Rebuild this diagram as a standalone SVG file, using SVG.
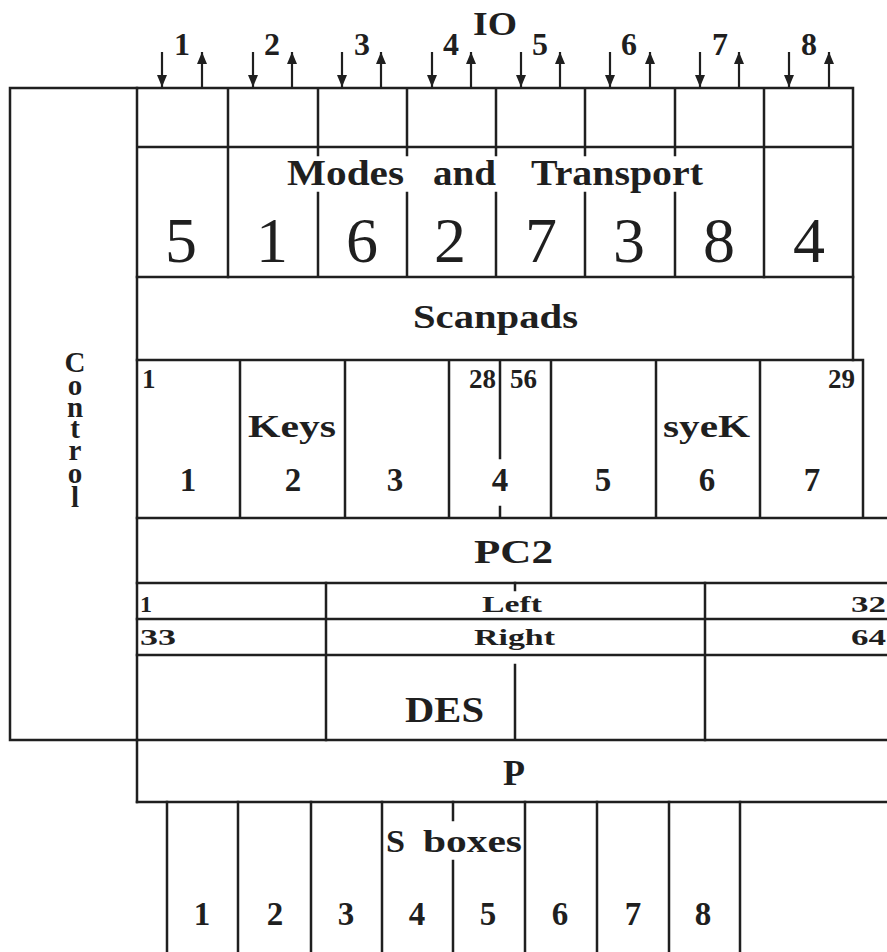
<svg xmlns="http://www.w3.org/2000/svg" width="887" height="952" viewBox="0 0 887 952">
<style>
  .ln{stroke:#1f1f1f;stroke-width:2.5;fill:none;stroke-linecap:square}
  .t{font-family:"Liberation Serif","DejaVu Serif",serif;font-weight:bold;fill:#1f1f1f}
  .big{font-family:"Liberation Serif","DejaVu Serif",serif;font-weight:normal;fill:#1f1f1f;font-size:64px;text-anchor:middle}
  .c{text-anchor:middle}
  .r{text-anchor:end}
  .ar{stroke:#1f1f1f;stroke-width:2.2;fill:none}
</style>
<defs>
  <marker id="ah" markerUnits="userSpaceOnUse" markerWidth="14" markerHeight="12" refX="12" refY="5" orient="auto">
    <path d="M0,0 L12,5 L0,10 Z" fill="#1f1f1f"/>
  </marker>
</defs>
<rect width="887" height="952" fill="#fff"/>

<g id="io">
  <text class="t" x="473" y="35" font-size="34" textLength="44" lengthAdjust="spacingAndGlyphs">IO</text>
  <g font-size="32">
    <text class="t c" x="182" y="55">1</text>
    <text class="t c" x="272" y="55">2</text>
    <text class="t c" x="362" y="55">3</text>
    <text class="t c" x="451" y="55">4</text>
    <text class="t c" x="540" y="55">5</text>
    <text class="t c" x="629" y="55">6</text>
    <text class="t c" x="720" y="55">7</text>
    <text class="t c" x="809" y="55">8</text>
  </g>
</g>
<g id="connectors">
  <path class="ar" marker-end="url(#ah)" d="M162,52 V87"/>
  <path class="ar" marker-end="url(#ah)" d="M202,88 V52"/>
  <path class="ar" marker-end="url(#ah)" d="M253,52 V87"/>
  <path class="ar" marker-end="url(#ah)" d="M292,88 V52"/>
  <path class="ar" marker-end="url(#ah)" d="M342,52 V87"/>
  <path class="ar" marker-end="url(#ah)" d="M381,88 V52"/>
  <path class="ar" marker-end="url(#ah)" d="M432,52 V87"/>
  <path class="ar" marker-end="url(#ah)" d="M471,88 V52"/>
  <path class="ar" marker-end="url(#ah)" d="M521,52 V87"/>
  <path class="ar" marker-end="url(#ah)" d="M560,88 V52"/>
  <path class="ar" marker-end="url(#ah)" d="M610,52 V87"/>
  <path class="ar" marker-end="url(#ah)" d="M650,88 V52"/>
  <path class="ar" marker-end="url(#ah)" d="M700,52 V87"/>
  <path class="ar" marker-end="url(#ah)" d="M739,88 V52"/>
  <path class="ar" marker-end="url(#ah)" d="M789,52 V87"/>
  <path class="ar" marker-end="url(#ah)" d="M829,88 V52"/>
</g>

<g id="control">
  <path class="ln" d="M137,88 H10 V740 H137"/>
  <text class="t c" font-size="29"><tspan x="75" y="372">C</tspan><tspan x="75" y="395">o</tspan><tspan x="75" y="417">n</tspan><tspan x="75" y="438">t</tspan><tspan x="75" y="460">r</tspan><tspan x="75" y="483">o</tspan><tspan x="75" y="507">l</tspan></text>
</g>

<g id="io-cells">
  <path class="ln" d="M137,88 H853 V360 M137,88 V802 M137,147 H853 M228,88 V277 M318,88 V155 M407,88 V155 M496,88 V155 M585,88 V155 M675,88 V155 M764,88 V277"/>
</g>

<g id="modes">
  <path class="ln" d="M318,193 V277 M407,193 V277 M496,193 V277 M585,193 V277 M675,193 V277 M137,277 H853"/>
  <text class="t" y="185" font-size="35"><tspan x="287" textLength="117" lengthAdjust="spacingAndGlyphs">Modes</tspan><tspan x="433" textLength="63" lengthAdjust="spacingAndGlyphs">and</tspan><tspan x="531" textLength="172" lengthAdjust="spacingAndGlyphs">Transport</tspan></text>
  <text class="big" x="181" y="262">5</text>
  <text class="big" x="272" y="262">1</text>
  <text class="big" x="362" y="262">6</text>
  <text class="big" x="450" y="262">2</text>
  <text class="big" x="541" y="262">7</text>
  <text class="big" x="629" y="262">3</text>
  <text class="big" x="719" y="262">8</text>
  <text class="big" x="809" y="262">4</text>
</g>

<g id="scanpads">
  <text class="t" x="413" y="328" font-size="34" textLength="165" lengthAdjust="spacingAndGlyphs">Scanpads</text>
</g>

<g id="keys">
  <path class="ln" d="M137,360 H863 V518 M137,518 H887 M240,360 V518 M345,360 V518 M449,360 V518 M500,360 V458 M500,507 V518 M551,360 V518 M656,360 V518 M760,360 V518"/>
  <g font-size="27">
    <text class="t" x="142" y="388">1</text>
    <text class="t r" x="496" y="388">28</text>
    <text class="t" x="510" y="388">56</text>
    <text class="t r" x="855" y="388">29</text>
  </g>
  <text class="t" x="248" y="437" font-size="31" textLength="88" lengthAdjust="spacingAndGlyphs">Keys</text>
  <text class="t" x="663" y="437" font-size="31" textLength="87" lengthAdjust="spacingAndGlyphs">syeK</text>
  <g font-size="33">
    <text class="t c" x="188" y="491">1</text>
    <text class="t c" x="293" y="491">2</text>
    <text class="t c" x="395" y="491">3</text>
    <text class="t c" x="500" y="491">4</text>
    <text class="t c" x="603" y="491">5</text>
    <text class="t c" x="707" y="491">6</text>
    <text class="t c" x="812" y="491">7</text>
  </g>
</g>

<g id="pc2">
  <path class="ln" d="M137,583 H887"/>
  <text class="t" x="474" y="563" font-size="34" textLength="79" lengthAdjust="spacingAndGlyphs">PC2</text>
</g>

<g id="left-right">
  <path class="ln" d="M137,619 H887 M137,655 H887 M326,583 V740 M705,583 V740 M515,583 V590"/>
  <g font-size="24">
    <text class="t" x="140" y="612">1</text>
    <text class="t" x="140" y="645" textLength="36" lengthAdjust="spacingAndGlyphs">33</text>
    <text class="t" x="851" y="612" textLength="35" lengthAdjust="spacingAndGlyphs">32</text>
    <text class="t" x="851" y="645" textLength="35" lengthAdjust="spacingAndGlyphs">64</text>
    <text class="t" x="482" y="612" textLength="60" lengthAdjust="spacingAndGlyphs">Left</text>
    <text class="t" x="474" y="645" textLength="81" lengthAdjust="spacingAndGlyphs">Right</text>
  </g>
</g>

<g id="des">
  <path class="ln" d="M515,665 V740 M137,740 H887"/>
  <text class="t" x="405" y="722" font-size="36" textLength="79" lengthAdjust="spacingAndGlyphs">DES</text>
</g>

<g id="p">
  <path class="ln" d="M137,802 H887"/>
  <text class="t c" x="514" y="785" font-size="36">P</text>
</g>

<g id="sboxes">
  <path class="ln" d="M167,802 V952 M238,802 V952 M311,802 V952 M382,802 V952 M453,802 V820 M453,861 V952 M525,802 V952 M597,802 V952 M669,802 V952 M740,802 V952"/>
  <text class="t" y="852" font-size="31"><tspan x="386" textLength="19" lengthAdjust="spacingAndGlyphs">S</tspan><tspan x="423" textLength="99" lengthAdjust="spacingAndGlyphs">boxes</tspan></text>
  <g font-size="33">
    <text class="t c" x="202" y="925">1</text>
    <text class="t c" x="275" y="925">2</text>
    <text class="t c" x="346" y="925">3</text>
    <text class="t c" x="417" y="925">4</text>
    <text class="t c" x="488" y="925">5</text>
    <text class="t c" x="560" y="925">6</text>
    <text class="t c" x="633" y="925">7</text>
    <text class="t c" x="703" y="925">8</text>
  </g>
</g>
</svg>
